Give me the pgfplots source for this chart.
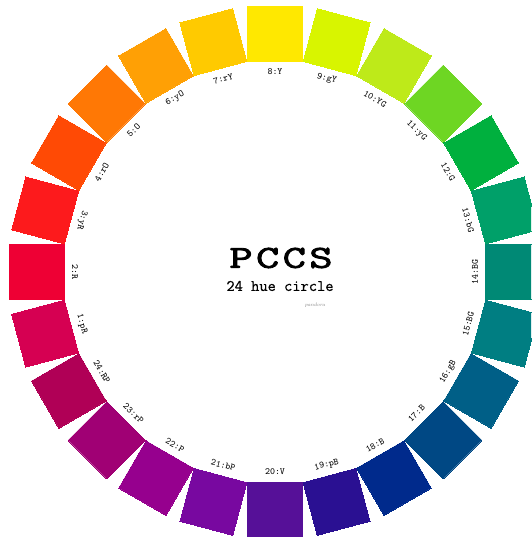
\documentclass[border=0pt]{standalone}
\usepackage{pgfplots}
\usepackage{pgfplotstable}
\pgfplotsset{compat=1.18}
\usepackage{fontspec}
\newfontfamily\slab{Latin Modern Mono}[FakeBold=2.5, LetterSpace=8]
\newfontfamily\subfont{Latin Modern Mono}[FakeBold=0.5]
\newfontfamily\labfont{Latin Modern Mono}

% PCCS hue colours
\definecolor{h1}{RGB}{214,0,82}
\definecolor{h2}{RGB}{238,0,52}
\definecolor{h3}{RGB}{253,26,28}
\definecolor{h4}{RGB}{255,74,5}
\definecolor{h5}{RGB}{255,120,5}
\definecolor{h6}{RGB}{255,160,5}
\definecolor{h7}{RGB}{255,202,0}
\definecolor{h8}{RGB}{255,232,0}
\definecolor{h9}{RGB}{216,245,0}
\definecolor{h10}{RGB}{190,234,25}
\definecolor{h11}{RGB}{110,214,35}
\definecolor{h12}{RGB}{0,176,62}
\definecolor{h13}{RGB}{0,160,105}
\definecolor{h14}{RGB}{0,137,117}
\definecolor{h15}{RGB}{0,126,130}
\definecolor{h16}{RGB}{0,95,135}
\definecolor{h17}{RGB}{0,72,132}
\definecolor{h18}{RGB}{0,42,140}
\definecolor{h19}{RGB}{42,16,146}
\definecolor{h20}{RGB}{86,16,152}
\definecolor{h21}{RGB}{120,8,160}
\definecolor{h22}{RGB}{150,0,142}
\definecolor{h23}{RGB}{160,0,116}
\definecolor{h24}{RGB}{176,0,86}

\pgfplotstableread{
ang r lab rot
195 200 1:pR 285
180 200 2:R 270
165 200 3:yR 255
150 200 4:rO 60
135 200 5:O 45
120 200 6:yO 30
105 200 7:rY 15
90 200 8:Y 0
75 200 9:gY -15
60 200 10:YG -30
45 200 11:yG -45
30 200 12:G -60
15 200 13:bG -75
0 200 14:BG 90
-15 200 15:BG 75
-30 200 16:gB 60
-45 200 17:B 45
-60 200 18:B 30
-75 200 19:pB 15
-90 200 20:V 0
-105 200 21:bP -15
-120 200 22:P -30
-135 200 23:rP -45
-150 200 24:RP -60
}\labels

\begin{document}
\begin{tikzpicture}
\begin{axis}[
    x=1pt, y=1pt,
    xmin=-275, xmax=256,
    ymin=-265, ymax=272,
    hide axis,
    clip marker paths=true,
    every axis plot/.append style={data cs=polar, mark=square*, mark size=27.3, line width=0pt},
]
\addplot[h1, mark options={rotate=195}] coordinates {(195,238)};
\addplot[h2, mark options={rotate=180}] coordinates {(180,238)};
\addplot[h3, mark options={rotate=165}] coordinates {(165,238)};
\addplot[h4, mark options={rotate=150}] coordinates {(150,238)};
\addplot[h5, mark options={rotate=135}] coordinates {(135,238)};
\addplot[h6, mark options={rotate=120}] coordinates {(120,238)};
\addplot[h7, mark options={rotate=105}] coordinates {(105,238)};
\addplot[h8, mark options={rotate=90}] coordinates {(90,238)};
\addplot[h9, mark options={rotate=75}] coordinates {(75,238)};
\addplot[h10, mark options={rotate=60}] coordinates {(60,238)};
\addplot[h11, mark options={rotate=45}] coordinates {(45,238)};
\addplot[h12, mark options={rotate=30}] coordinates {(30,238)};
\addplot[h13, mark options={rotate=15}] coordinates {(15,238)};
\addplot[h14, mark options={rotate=0}] coordinates {(0,238)};
\addplot[h15, mark options={rotate=-15}] coordinates {(-15,238)};
\addplot[h16, mark options={rotate=-30}] coordinates {(-30,238)};
\addplot[h17, mark options={rotate=-45}] coordinates {(-45,238)};
\addplot[h18, mark options={rotate=-60}] coordinates {(-60,238)};
\addplot[h19, mark options={rotate=-75}] coordinates {(-75,238)};
\addplot[h20, mark options={rotate=-90}] coordinates {(-90,238)};
\addplot[h21, mark options={rotate=-105}] coordinates {(-105,238)};
\addplot[h22, mark options={rotate=-120}] coordinates {(-120,238)};
\addplot[h23, mark options={rotate=-135}] coordinates {(-135,238)};
\addplot[h24, mark options={rotate=-150}] coordinates {(-150,238)};

% hue labels
\addplot[
    only marks, mark=none,
    nodes near coords,
    point meta=explicit symbolic,
    visualization depends on={\thisrow{rot} \as \rot},
    every node near coord/.style={anchor=center, inner sep=0pt, rotate=\rot, font=\labfont\fontsize{9.5}{9.5}\selectfont, text=black},
] table[x=ang, y=r, meta=lab] {\labels};

\node[font=\slab\fontsize{32}{32}\selectfont, xscale=1.4] at (axis cs:6,14) {PCCS};
\node[font=\subfont\fontsize{16}{16}\selectfont] at (axis cs:5,-14) {24 hue circle};
\node[font=\itshape\fontsize{5}{5}\selectfont, text=gray] at (axis cs:40,-33) {pandora};
\end{axis}
\useasboundingbox (current axis.south west) rectangle (current axis.north east);
\end{tikzpicture}
\end{document}
